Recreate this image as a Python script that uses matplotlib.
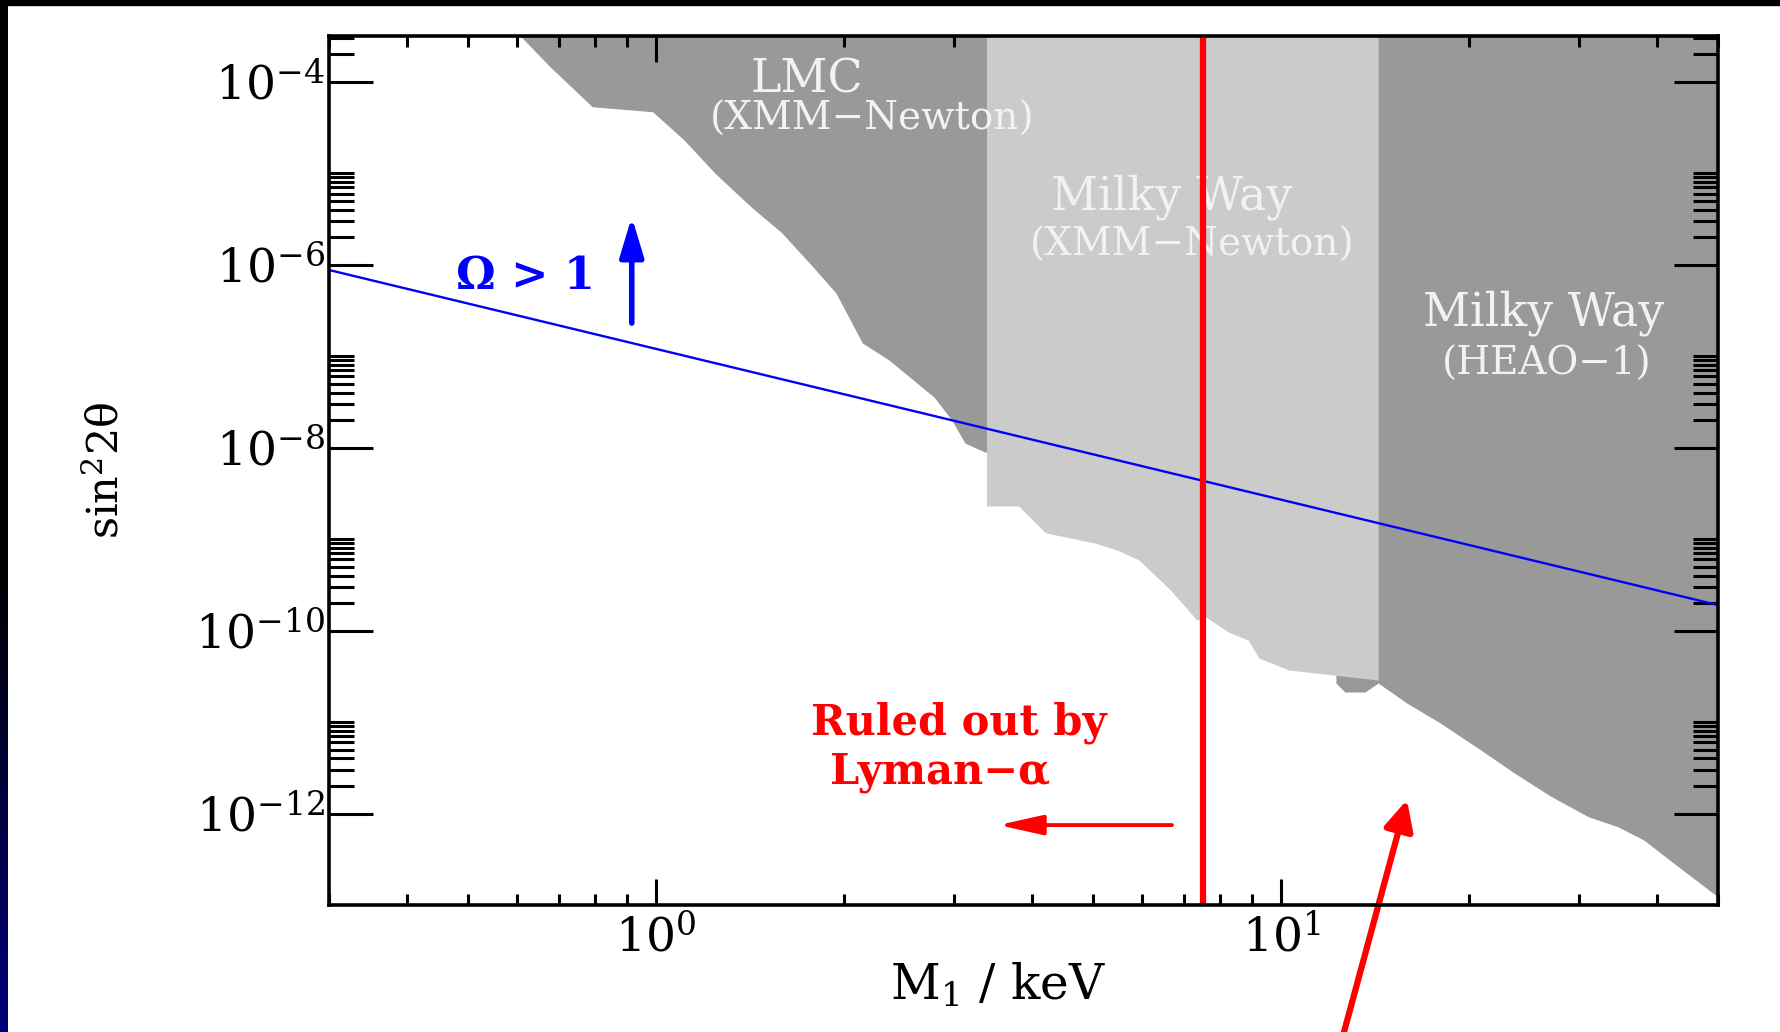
import matplotlib
matplotlib.use('Agg')
import matplotlib.pyplot as plt
import numpy as np
from matplotlib.patches import Rectangle
from matplotlib.ticker import FixedLocator, FixedFormatter, NullFormatter, LogLocator

plt.rcParams['font.family'] = ['DejaVu Serif']
plt.rcParams['mathtext.fontset'] = 'dejavuserif'

# lower edges of the excluded regions (M1 in keV, sin^2 2theta)
lmc_mass = [0.607, 0.677, 0.791, 0.988, 1.109, 1.243, 1.419, 1.591, 1.784, 1.941,
            2.140, 2.359, 2.785, 2.974, 3.122, 3.360, 3.38]
lmc_mix = [3.16e-4, 1.46e-4, 5.33e-5, 4.70e-5, 2.31e-5, 1.00e-5, 4.30e-6, 2.22e-6, 9.43e-7, 4.90e-7,
           1.39e-7, 9.08e-8, 3.57e-8, 2.00e-8, 1.12e-8, 8.95e-9, 8.95e-9]

mw_xmm_mass = [3.38, 3.804, 4.200, 5.031, 5.465, 5.926, 6.656, 7.337, 7.568, 8.215,
               8.853, 9.218, 10.29, 12.11, 14.3]
mw_xmm_mix = [2.30e-9, 2.30e-9, 1.17e-9, 9.06e-10, 7.60e-10, 5.91e-10, 2.77e-10, 1.30e-10, 1.42e-10, 9.71e-11,
              7.88e-11, 5.01e-11, 3.71e-11, 3.27e-11, 2.88e-11]

heao_mass = [12.24, 12.65, 13.62, 14.3, 15.90, 17.98, 20.88, 23.62, 27.07, 31.02,
             34.57, 38.05, 42.43, 49.5, 50.0]
heao_mix = [2.67e-11, 2.13e-11, 2.13e-11, 2.67e-11, 1.61e-11, 9.75e-12, 4.94e-12, 2.77e-12, 1.53e-12, 9.23e-13,
            7.17e-13, 5.13e-13, 2.88e-13, 1.29e-13, 1.25e-13]

# Omega = 1 line
omega_mass = [0.3, 50.0]
omega_mix = [8.75e-7, 1.9e-10]

lyman_mass = 7.5

xticks = [1, 10]
xtick_labels = [r'$10^{0}$', r'$10^{1}$']
yticks = [1e-12, 1e-10, 1e-8, 1e-6, 1e-4]
ytick_labels = [r'$10^{-12}$', r'$10^{-10}$', r'$10^{-8}$', r'$10^{-6}$', r'$10^{-4}$']

dark = '#999999'
light = '#cbcbcb'
txt = '#f2f2f2'

fig = plt.figure(figsize=(17.8, 10.32), dpi=100)
fig.patch.set_facecolor('white')

# slide frame: black bar on top, dark strip on the left
fig.patches.append(Rectangle((0, 1 - 5 / 1032), 1, 5 / 1032, transform=fig.transFigure,
                             color='black', zorder=0))
strip = fig.add_axes([0, 0, 8 / 1780, 1 - 5 / 1032])
t = np.linspace(0, 1, 200)
blue = np.clip((t - 0.55) / 0.45, 0, 1) * 0.48
grad = np.zeros((200, 1, 3))
grad[:, 0, 2] = blue
strip.imshow(grad, aspect='auto', extent=(0, 1, 1, 0))
strip.set_axis_off()

ax = fig.add_axes([329 / 1780, 1 - 905 / 1032, 1389 / 1780, 869 / 1032])
ax.set_xscale('log')
ax.set_yscale('log')
ax.set_xlim(0.3, 50)
ax.set_ylim(1e-13, 10 ** -3.5)

ax.fill_between(heao_mass, heao_mix, 1e-2, color=dark, lw=0, zorder=1)
ax.fill_between(lmc_mass, lmc_mix, 1e-2, color=dark, lw=0, zorder=1)
ax.fill_between(mw_xmm_mass, mw_xmm_mix, 1e-2, color=light, lw=0, zorder=2)

ax.plot(omega_mass, omega_mix, color='blue', lw=1.7, zorder=4)

ax.text(1.745, 1.06e-4, 'LMC', color=txt, fontsize=33, ha='center', va='center', zorder=3)
ax.text(2.216, 3.92e-5, '(XMM\u2212Newton)', color=txt, fontsize=28, ha='center', va='center', zorder=3)
ax.text(6.68, 5.42e-6, 'Milky Way', color=txt, fontsize=33, ha='center', va='center', zorder=3)
ax.text(7.20, 1.64e-6, '(XMM\u2212Newton)', color=txt, fontsize=28, ha='center', va='center', zorder=3)
ax.text(26.3, 2.96e-7, 'Milky Way', color=txt, fontsize=33, ha='center', va='center', zorder=3)
ax.text(26.6, 8.2e-8, '(HEAO\u22121)', color=txt, fontsize=28, ha='center', va='center', zorder=3)

ax.text(3.05, 9.75e-12, 'Ruled out by', color='red', fontsize=30, fontweight='bold',
        ha='center', va='center', zorder=6)
ax.text(2.85, 2.84e-12, 'Lyman\u2212\u03b1', color='red', fontsize=30, fontweight='bold',
        ha='center', va='center', zorder=6)
ax.text(0.619, 7.5e-7, '\u03a9 > 1', color='blue', fontsize=32, fontweight='bold',
        ha='center', va='center', zorder=6)

ax.axvline(lyman_mass, color='red', lw=4.5, zorder=5)

ax.annotate('', xy=(0.915, 3.35e-6), xytext=(0.915, 2.30e-7),
            arrowprops=dict(arrowstyle='-|>,head_length=0.6,head_width=0.18', color='blue',
                            lw=4, mutation_scale=40, shrinkA=0, shrinkB=0), zorder=6)
ax.annotate('', xy=(3.53, 7.48e-13), xytext=(6.69, 7.48e-13),
            arrowprops=dict(arrowstyle='-|>,head_length=0.9,head_width=0.2', color='red',
                            lw=2.8, mutation_scale=30, shrinkA=0, shrinkB=0), zorder=6)
ax.annotate('', xy=(15.9, 1.41e-12), xytext=(0.7538, -0.008), textcoords='figure fraction',
            arrowprops=dict(arrowstyle='-|>,head_length=0.45,head_width=0.22', color='red',
                            lw=4.5, mutation_scale=40, shrinkA=0, shrinkB=0),
            annotation_clip=False, zorder=6)

# ticks
ax.xaxis.set_major_locator(FixedLocator(xticks))
ax.xaxis.set_major_formatter(FixedFormatter(xtick_labels))
ax.xaxis.set_minor_locator(LogLocator(base=10, subs=np.arange(2, 10)))
ax.xaxis.set_minor_formatter(NullFormatter())
ax.yaxis.set_major_locator(FixedLocator(yticks))
ax.yaxis.set_major_formatter(FixedFormatter(ytick_labels))
ax.yaxis.set_minor_locator(FixedLocator([m * y for y in yticks for m in range(2, 11)]))
ax.yaxis.set_minor_formatter(NullFormatter())

ax.tick_params(which='both', direction='in', top=True, right=True, width=2.2, colors='black')
ax.tick_params(axis='x', which='major', length=19, pad=8, labelsize=34)
ax.tick_params(axis='x', which='minor', length=8)
ax.tick_params(axis='y', which='major', length=32, pad=3, labelsize=34)
ax.tick_params(axis='y', which='minor', length=18)
for s in ax.spines.values():
    s.set_linewidth(2.6)
    s.set_zorder(7)

ax.set_xlabel('M$_1$ / keV', fontsize=35)
ax.xaxis.set_label_coords(0.482, -0.065)
ax.set_ylabel('sin$^2$2\u03b8', fontsize=31)
ax.yaxis.set_label_coords(-0.145, 0.5)

fig.savefig('out.png', dpi=100)
